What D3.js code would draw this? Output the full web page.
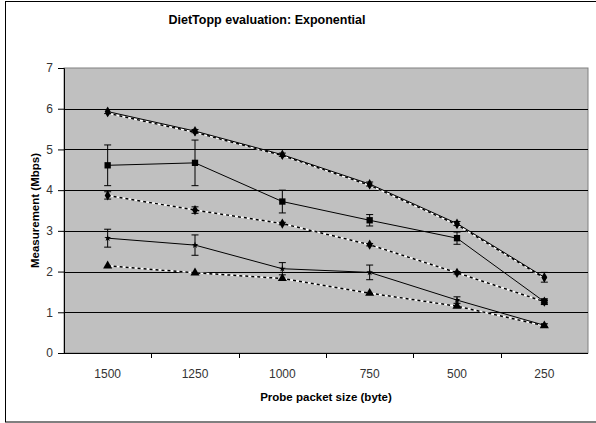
<!DOCTYPE html>
<html>
<head>
<meta charset="utf-8">
<script src="https://cdn.jsdelivr.net/npm/d3@7"></script>
<style>
  body { margin: 0; background: #fff; }
  svg { font-family: "Liberation Sans", Arial, sans-serif; }
</style>
</head>
<body>
<svg width="596" height="423"></svg>
<script>
// Chart data
var sizes = ['1500', '1250', '1000', '750', '500', '250'];
var yTicks = [0, 1, 2, 3, 4, 5, 6, 7];

var solidTop = [5.93, 5.45, 4.87, 4.15, 3.18, 1.86];
var solidTopErr = [0.05, 0.04, 0.04, 0.05, 0.05, 0.12];
var dotTop = [5.89, 5.42, 4.85, 4.12, 3.15, 1.84];
var solidMid = [4.61, 4.67, 3.72, 3.26, 2.82, 1.26];
var solidMidErr = [0.5, 0.56, 0.28, 0.14, 0.15, 0.07];
var dotMid = [3.87, 3.51, 3.18, 2.66, 1.97, 1.26];
var dotMidErr = [0.09, 0.08, 0.03, 0.03, 0.03, 0.03];
var solidLow = [2.82, 2.65, 2.07, 1.98, 1.30, 0.68];
var solidLowErr = [0.22, 0.25, 0.15, 0.18, 0.08, 0.04];
var dotLow = [2.14, 1.97, 1.83, 1.47, 1.15, 0.67];

var series = [
    {vals: dotTop, err: null, dotted: true, sym: d3.symbolDiamond, size: 20},
    {vals: solidTop, err: solidTopErr, dotted: false, sym: d3.symbolDiamond, size: 30},
    {vals: dotMid, err: dotMidErr, dotted: true, sym: d3.symbolDiamond, size: 30},
    {vals: solidMid, err: solidMidErr, dotted: false, sym: d3.symbolSquare, size: 40},
    {vals: dotLow, err: null, dotted: true, sym: d3.symbolTriangle, size: 36},
    {vals: solidLow, err: solidLowErr, dotted: false, sym: d3.symbolStar, size: 14}
];

var svg = d3.select('svg');

// outer chart border
svg.append('rect')
    .attr('x', 5.5).attr('y', 1.5)
    .attr('width', 620).attr('height', 420.5)
    .attr('fill', 'none').attr('stroke', '#000');

var padding = {t: 68, r: 8, b: 70, l: 64};
var chartWidth = 596 - padding.l - padding.r;
var chartHeight = 423 - padding.t - padding.b;

var chartG = svg.append('g')
    .attr('transform', 'translate(' + [padding.l, padding.t] + ')');

var xScale = d3.scaleBand().domain(sizes).range([0, chartWidth]);
var yScale = d3.scaleLinear().domain([0, 7]).range([chartHeight, 0]);

// plot background
chartG.append('rect')
    .attr('width', chartWidth).attr('height', chartHeight)
    .attr('fill', '#c0c0c0').attr('stroke', '#808080');

// gridlines
chartG.selectAll('.grid')
    .data(yTicks.filter(function(d) { return d > 0 && d < 7; }))
    .enter().append('line')
    .attr('x1', 0).attr('x2', chartWidth)
    .attr('y1', function(d) { return Math.round(yScale(d)) + 0.5; })
    .attr('y2', function(d) { return Math.round(yScale(d)) + 0.5; })
    .attr('stroke', '#000');

// y axis
var yAx = chartG.append('g')
    .call(d3.axisLeft(yScale).tickValues(yTicks).tickFormat(d3.format('d'))
        .tickSize(6).tickPadding(5));
yAx.select('.domain').attr('stroke', '#000');
yAx.selectAll('text').attr('font-size', 12).attr('fill', '#333');

// x axis, ticks between categories
var xAx = chartG.append('g')
    .attr('transform', 'translate(0,' + chartHeight + ')');
xAx.append('line')
    .attr('x1', 0).attr('x2', chartWidth)
    .attr('y1', 0.5).attr('y2', 0.5)
    .attr('stroke', '#000');
xAx.selectAll('.tk')
    .data(sizes.slice(1))
    .enter().append('line')
    .attr('x1', function(d) { return Math.round(xScale(d)) + 0.5; })
    .attr('x2', function(d) { return Math.round(xScale(d)) + 0.5; })
    .attr('y1', 0).attr('y2', 5)
    .attr('stroke', '#000');
xAx.selectAll('.lbl')
    .data(sizes)
    .enter().append('text')
    .attr('x', function(d) { return xScale(d) + xScale.bandwidth() / 2; })
    .attr('y', 25)
    .attr('text-anchor', 'middle')
    .attr('font-size', 12).attr('fill', '#333')
    .text(function(d) { return d; });

var cx = function(d, i) { return xScale(sizes[i]) + xScale.bandwidth() / 2; };
var line = d3.line()
    .x(function(d, i) { return cx(d, i); })
    .y(function(d) { return yScale(d); });

series.forEach(function(s) {
    if (s.dotted) {
        chartG.append('path').datum(s.vals)
            .attr('d', line).attr('fill', 'none')
            .attr('stroke', '#fff').attr('stroke-width', 1.5);
        chartG.append('path').datum(s.vals)
            .attr('d', line).attr('fill', 'none')
            .attr('stroke', '#000').attr('stroke-width', 1.5)
            .attr('stroke-dasharray', '3,3');
    } else {
        chartG.append('path').datum(s.vals)
            .attr('d', line).attr('fill', 'none')
            .attr('stroke', '#000').attr('stroke-width', 1);
    }
    if (s.err) {
        var eg = chartG.append('g');
        s.vals.forEach(function(v, i) {
            var x = cx(v, i);
            var y1 = yScale(v + s.err[i]), y2 = yScale(v - s.err[i]);
            eg.append('line').attr('x1', x).attr('x2', x)
                .attr('y1', y1).attr('y2', y2).attr('stroke', '#000');
            eg.append('line').attr('x1', x - 3.5).attr('x2', x + 3.5)
                .attr('y1', y1).attr('y2', y1).attr('stroke', '#000');
            eg.append('line').attr('x1', x - 3.5).attr('x2', x + 3.5)
                .attr('y1', y2).attr('y2', y2).attr('stroke', '#000');
        });
    }
    chartG.selectAll(null)
        .data(s.vals)
        .enter().append('path')
        .attr('transform', function(d, i) { return 'translate(' + cx(d, i) + ',' + yScale(d) + ')'; })
        .attr('d', d3.symbol().type(s.sym).size(s.size))
        .attr('fill', '#000');
});

// titles
svg.append('text')
    .attr('x', 267).attr('y', 24)
    .attr('text-anchor', 'middle')
    .attr('font-size', 12.5).attr('font-weight', 'bold')
    .text('DietTopp evaluation: Exponential');

svg.append('text')
    .attr('x', padding.l + chartWidth / 2).attr('y', 401)
    .attr('text-anchor', 'middle')
    .attr('font-size', 11.5).attr('font-weight', 'bold')
    .text('Probe packet size (byte)');

svg.append('text')
    .attr('transform', 'translate(39,' + (padding.t + chartHeight / 2) + ') rotate(-90)')
    .attr('text-anchor', 'middle')
    .attr('font-size', 11.5).attr('font-weight', 'bold')
    .text('Measurement (Mbps)');
</script>
</body>
</html>
